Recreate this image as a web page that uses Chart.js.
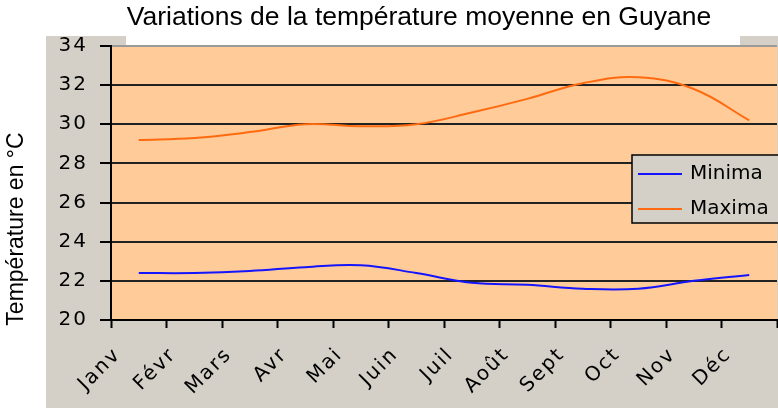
<!DOCTYPE html>
<html>
<head>
<meta charset="utf-8">
<script src="https://cdn.jsdelivr.net/npm/chart.js@4"></script>
<style>
  html, body { margin: 0; padding: 0; background: #fff; }
  #wrap { width: 778px; height: 408px; }
</style>
</head>
<body>
<div id="wrap"><canvas id="graphique" width="778" height="408"></canvas></div>
<script>
// Données
const mois = ['Janv', 'Févr', 'Mars', 'Avr', 'Mai', 'Juin', 'Juil', 'Août', 'Sept', 'Oct', 'Nov', 'Déc'];
const minima = [22.4, 22.4, 22.5, 22.7, 22.8, 22.4, 21.9, 21.8, 21.6, 21.6, 22.0, 22.3];
const maxima = [29.2, 29.3, 29.6, 30.0, 29.9, 30.0, 30.6, 31.3, 32.1, 32.4, 31.8, 30.2];
const titre = 'Variations de la température moyenne en Guyane';
const titreAxeY = 'Température en °C';

const gris = '#d4d0c8';
const orange = '#ffcc99';

// Fond, titre et titre de l'axe (dessinés à la main comme dans Excel)
const decor = {
  id: 'decor',
  beforeDraw(chart) {
    const c = chart.ctx;
    const a = chart.chartArea;
    c.save();
    c.letterSpacing = '0px';
    c.fillStyle = '#fff';
    c.fillRect(0, 0, chart.width, chart.height);
    c.fillStyle = gris;
    c.fillRect(46, 36, chart.width - 46, chart.height - 36);
    c.fillStyle = '#fff';
    c.fillRect(126, 0, 614, a.top);
    c.fillStyle = orange;
    c.fillRect(a.left, a.top, a.right - a.left, a.bottom - a.top);

    c.fillStyle = '#000';
    c.font = '26.5px "Liberation Sans", Arial, sans-serif';
    c.textAlign = 'center';
    c.textBaseline = 'middle';
    c.fillText(titre, 419, 18);

    c.translate(17, 229);
    c.rotate(-Math.PI / 2);
    c.font = '23px "Liberation Sans", Arial, sans-serif';
    c.fillText(titreAxeY, 0, 0);
    c.restore();
    // police bitmap large d'Excel : on écarte un peu les lettres des graduations
    c.letterSpacing = '2px';
  },
  afterDatasetsDraw(chart) {
    // légende posée dans la zone de tracé
    const c = chart.ctx;
    c.save();
    c.letterSpacing = '0px';
    c.fillStyle = gris;
    c.strokeStyle = '#000';
    c.lineWidth = 1.5;
    c.fillRect(632, 155, 150, 68);
    c.strokeRect(632, 155, 150, 68);
    c.font = '20px "DejaVu Sans", sans-serif';
    c.textBaseline = 'middle';
    chart.data.datasets.forEach((ds, i) => {
      const y = 174 + i * 35;
      c.strokeStyle = ds.borderColor;
      c.lineWidth = 2;
      c.beginPath();
      c.moveTo(638, y);
      c.lineTo(682, y);
      c.stroke();
      c.fillStyle = '#000';
      c.fillText(ds.label, 690, y);
    });
    c.restore();
  }
};

const ctx = document.getElementById('graphique').getContext('2d');
const monGraphique = new Chart(ctx, {
  type: 'line',
  data: {
    labels: mois,
    datasets: [{
      label: 'Minima',
      data: minima,
      borderColor: '#1414ff',
      borderWidth: 2,
      pointRadius: 0,
      tension: 0.4,
      fill: false
    }, {
      label: 'Maxima',
      data: maxima,
      borderColor: '#ff6a10',
      borderWidth: 2,
      pointRadius: 0,
      tension: 0.4,
      fill: false
    }]
  },
  options: {
    responsive: false,
    animation: false,
    devicePixelRatio: 1,
    layout: { padding: { top: 46, left: 0, right: 1, bottom: 0 } },
    plugins: {
      legend: { display: false },
      title: { display: false },
      tooltip: { enabled: false }
    },
    scales: {
      x: {
        offset: true,
        grid: {
          offset: true,
          drawOnChartArea: false,
          drawTicks: true,
          tickLength: 8,
          tickColor: '#000',
          tickWidth: 2
        },
        border: { color: '#000', width: 2 },
        ticks: {
          color: '#000',
          font: { family: 'DejaVu Sans', size: 20 },
          minRotation: 45,
          maxRotation: 45,
          autoSkip: false,
          labelOffset: -21,
          padding: 15
        },
        afterFit(scale) {
          scale.height = 88;
          scale.paddingLeft = 0;
          scale.paddingRight = 0;
        }
      },
      y: {
        min: 20,
        max: 34,
        grid: {
          color: (c) => c.tick && c.tick.value === 34 ? '#9a9a9a' : '#222',
          lineWidth: 2,
          tickLength: 11,
          tickColor: '#000',
          tickWidth: 2
        },
        border: { color: '#000', width: 2 },
        ticks: {
          stepSize: 2,
          color: '#000',
          font: { family: 'DejaVu Sans', size: 20 },
          padding: 12
        },
        afterFit(scale) { scale.width = 111; }
      }
    }
  },
  plugins: [decor]
});
</script>
</body>
</html>
